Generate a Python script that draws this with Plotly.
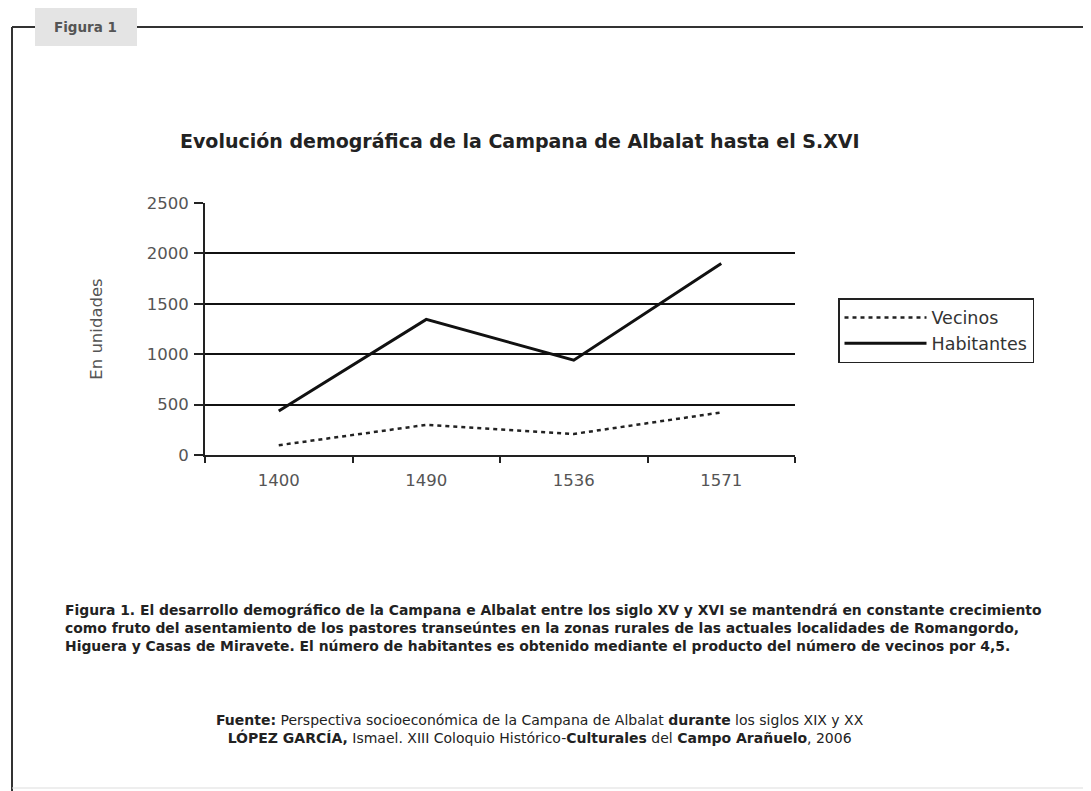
import plotly.graph_objects as go

years = ["1400", "1490", "1536", "1571"]
vecinos = [97, 299, 209, 422]
habitantes = [437, 1345, 941, 1899]
y_ticks = [0, 500, 1000, 1500, 2000, 2500]

W, H = 1091, 791
OFF = 8  # page body margin
# plot area in screenshot pixels
L, R, T, B = 205, 795, 203, 455

def px(x):
    return (x - L) / (R - L)

def py(y):
    return (B - y) / (B - T)

fig = go.Figure()
fig.add_trace(go.Scatter(x=years, y=vecinos, name="Vecinos", mode="lines",
                         line=dict(color="#222", width=2.5, dash="4px,4px")))
fig.add_trace(go.Scatter(x=years, y=habitantes, name="Habitantes", mode="lines",
                         line=dict(color="#111", width=3)))

FONT = "DejaVu Sans"
ink = "#2a2a2a"

shapes = [
    dict(type="rect", xref="paper", yref="paper", x0=px(35), x1=px(137), y0=py(8), y1=py(46),
         fillcolor="#e4e4e4", line=dict(width=0), layer="below"),
    dict(type="line", xref="paper", yref="paper", x0=px(12), x1=px(35), y0=py(27), y1=py(27),
         line=dict(color="#333", width=2)),
    dict(type="line", xref="paper", yref="paper", x0=px(137), x1=px(1100), y0=py(27), y1=py(27),
         line=dict(color="#333", width=2)),
    dict(type="line", xref="paper", yref="paper", x0=px(12), x1=px(12), y0=py(27), y1=py(800),
         line=dict(color="#333", width=2)),
    dict(type="line", xref="paper", yref="paper", x0=px(12), x1=px(1100), y0=py(788), y1=py(788),
         line=dict(color="#ddd", width=1)),
]

caption = ("<b>Figura 1. El desarrollo demográfico de la Campana e Albalat entre los siglo XV y XVI se mantendrá en constante crecimiento<br>"
           "como fruto del asentamiento de los pastores transeúntes en la zonas rurales de las actuales localidades de Romangordo,<br>"
           "Higuera y Casas de Miravete. El número de habitantes es obtenido mediante el producto del número de vecinos por 4,5.</b>")
source = ("<b>Fuente:</b> Perspectiva socioeconómica de la Campana de Albalat <b>durante</b> los siglos XIX y XX<br>"
          "<b>LÓPEZ GARCÍA,</b> Ismael. XIII Coloquio Histórico-<b>Culturales</b> del <b>Campo Arañuelo</b>, 2006")

annotations = [
    dict(text="<b>Figura 1</b>", xref="paper", yref="paper", x=px(86), y=py(27),
         showarrow=False, xanchor="center", yanchor="middle",
         font=dict(family=FONT, size=13.5, color="#555")),
    dict(text="<b>Evolución demográfica de la Campana de Albalat hasta el S.XVI</b>",
         xref="paper", yref="paper", x=px(520), y=py(141), showarrow=False,
         xanchor="center", yanchor="middle", font=dict(family=FONT, size=19, color="#222")),
    dict(text=caption, xref="paper", yref="paper", x=px(63), y=py(600), showarrow=False,
         xanchor="left", yanchor="top", align="left",
         font=dict(family=FONT, size=13.9, color="#222")),
    dict(text=source, xref="paper", yref="paper", x=px(540), y=py(710), showarrow=False,
         xanchor="center", yanchor="top", align="center",
         font=dict(family=FONT, size=14, color="#222")),
]

fig.update_layout(
    width=W, height=H,
    margin=dict(l=L - OFF, r=W - (R - OFF), t=T - OFF, b=H - (B - OFF), pad=0),
    paper_bgcolor="white", plot_bgcolor="white",
    font=dict(family=FONT, color=ink),
    showlegend=True,
    legend=dict(x=px(838), y=py(298), xanchor="left", yanchor="top",
                bordercolor="#222", borderwidth=1.5, bgcolor="white",
                font=dict(family=FONT, size=17.5, color="#333"),
                itemwidth=82, tracegroupgap=0),
    shapes=shapes, annotations=annotations,
    xaxis=dict(type="category", showgrid=False, showline=True, linecolor="#222", linewidth=2,
               ticks="outside", tickson="boundaries", ticklen=6, tickwidth=2, tickcolor="#222",
               ticklabelstandoff=9,
               tickfont=dict(family=FONT, size=16.5, color="#555"), range=[-0.5, 3.5]),
    yaxis=dict(range=[0, 2500], tickvals=y_ticks, showgrid=True, gridcolor="#111", gridwidth=2,
               showline=True, linecolor="#222", linewidth=2, zeroline=False,
               ticks="outside", ticklen=9, tickwidth=2, tickcolor="#222",
               ticklabelstandoff=2,
               tickfont=dict(family=FONT, size=16.5, color="#555"),
               title=dict(text="En unidades", font=dict(family=FONT, size=16.5, color="#555"), standoff=40)),
)

fig.write_html("out.html")
